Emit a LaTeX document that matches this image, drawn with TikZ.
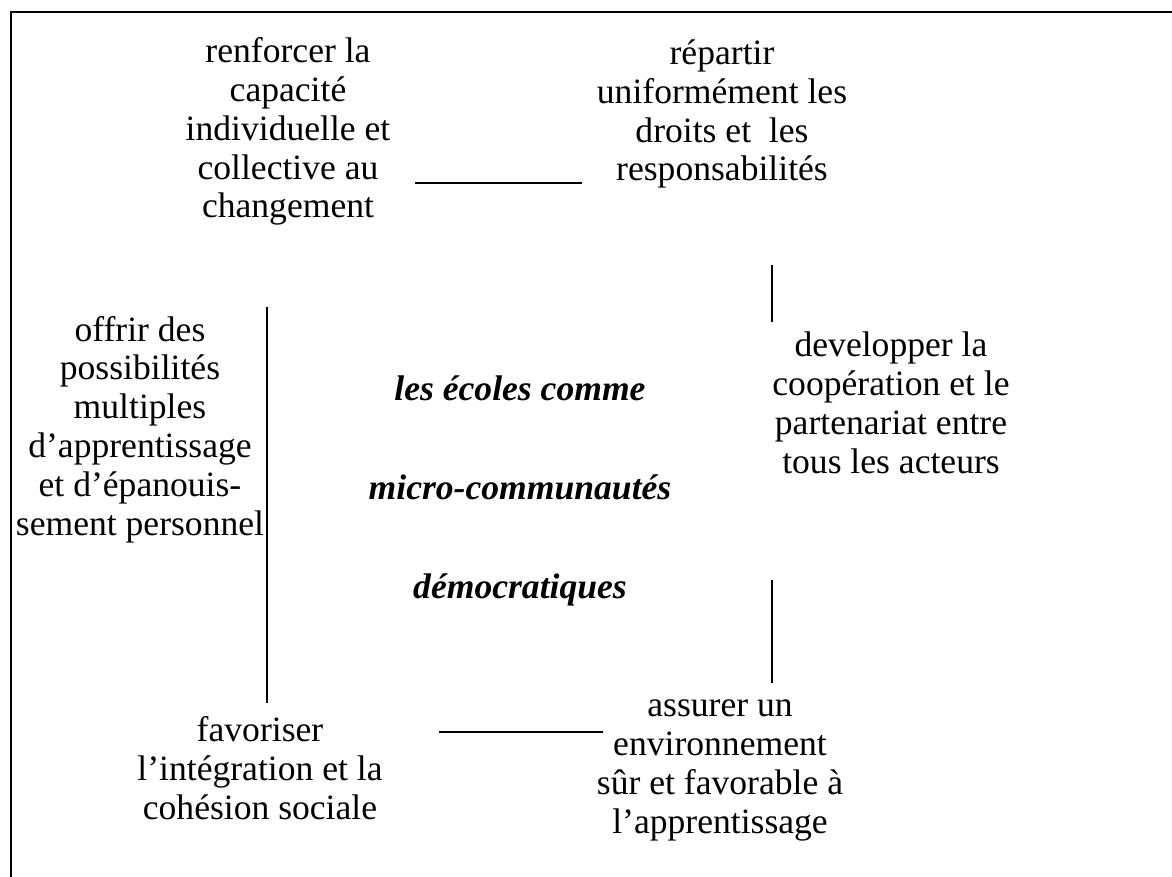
\documentclass[tikz,border=0pt]{standalone}
\usepackage{fontspec}
\setmainfont{Liberation Serif}
\begin{document}
\begin{tikzpicture}[x=0.5pt, y=-0.5pt,
  textstyle/.style={align=center, anchor=base, inner sep=0pt, font=\fontsize{17.8}{19.4}\selectfont},
  centrestyle/.style={textstyle, font=\fontsize{17.8}{49.5}\selectfont\bfseries\itshape},
  linestyle/.style={line width=0.9pt}]
\clip (0,0) rectangle (1172,877);
\fill[white] (0,0) rectangle (1172,877);
% frame
\draw[line width=1.1pt] (11,900) -- (11,12) -- (1190,12);

% anchored at the baseline of the last line
\node[textstyle] (renf) at (288,218) {renforcer la\\capacité\\individuelle et\\collective au\\changement};
\node[textstyle] (repa) at (722,181) {répartir\\uniformément les\\droits et~ les\\responsabilités};
\node[textstyle] (offr) at (140,535) {offrir des\\possibilités\\multiples\\d’apprentissage\\et d’épanouis-\\sement personnel};
\node[textstyle] (deve) at (891,473) {developper la\\coopération et le\\partenariat entre\\tous les acteurs};
\node[textstyle] (assu) at (720,833) {assurer un\\environnement\\sûr et favorable à\\l’apprentissage};
\node[textstyle] (favo) at (260,819) {favoriser\\l’intégration et la\\cohésion sociale};
\node[centrestyle] (ecol) at (520,598) {les écoles comme\\micro-communautés\\démocratiques};

% connectors
\coordinate (t1) at (415,183); \coordinate (t2) at (582,183);
\coordinate (l1) at (267,307); \coordinate (l2) at (267,703);
\coordinate (r1) at (772,265); \coordinate (r2) at (772,322);
\coordinate (r3) at (772,580); \coordinate (r4) at (772,683);
\coordinate (b1) at (439,732); \coordinate (b2) at (603,732);
\foreach \a/\b in {t1/t2, l1/l2, r1/r2, r3/r4, b1/b2}
  \draw[linestyle] (\a) -- (\b);
\end{tikzpicture}
\end{document}
